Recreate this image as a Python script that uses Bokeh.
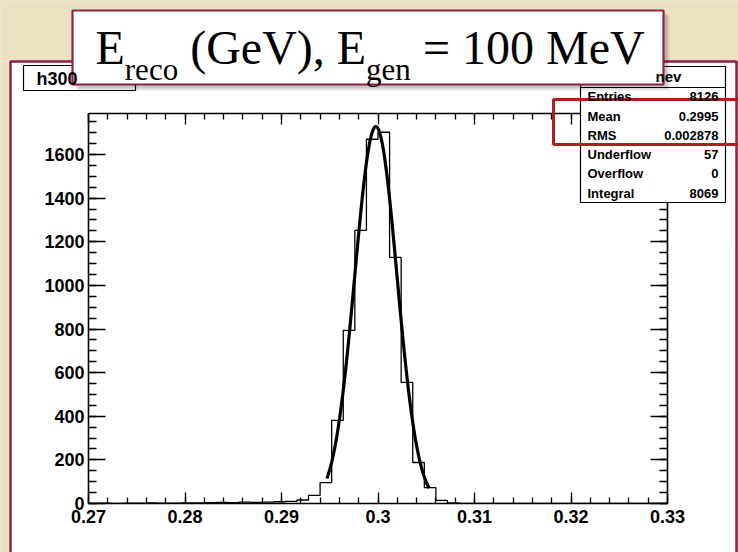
import numpy as np
from bokeh.plotting import figure
from bokeh.models import Range1d, FixedTicker, LinearAxis, Label
from bokeh.embed import file_html
from bokeh.resources import INLINE

# ---------------- data ----------------
x_min, x_max, n_bins = 0.27, 0.33, 50
counts = [0, 2, 1, 2, 2, 3, 2, 2, 3, 3,
          4, 5, 4, 6, 5, 6, 8, 10, 16, 37,
          96, 381, 794, 1252, 1670, 1702, 1128, 555, 188, 73,
          14, 3, 0, 0, 0, 0, 0, 0, 0, 0,
          0, 0, 0, 0, 0, 0, 0, 0, 0, 0]
fit_const, fit_mean, fit_sigma = 1728.0, 0.29978, 0.00218
fit_lo, fit_hi = 0.2947, 0.3053
y_top = 1788

x_ticks = [0.27, 0.28, 0.29, 0.30, 0.31, 0.32, 0.33]
x_tick_labels = ["0.27", "0.28", "0.29", "0.3", "0.31", "0.32", "0.33"]
x_minor = [round(0.27 + 0.002 * i, 4) for i in range(31)]
y_ticks = [0, 200, 400, 600, 800, 1000, 1200, 1400, 1600]
y_tick_labels = ["0", "200", "400", "600", "800", "1000", "1200", "1400", "1600"]
y_minor = list(range(0, 1800, 50))

stat_names = ["Entries", "Mean", "RMS", "Underflow", "Overflow", "Integral"]
stat_values = ["8126", "0.2995", "0.002878", "57", "0", "8069"]
hist_name = "h300"
stats_title = "nev"
title_parts = ["E", "reco", "(GeV),", "E", "gen", "= 100 MeV"]
title_is_sub = [False, True, False, False, True, False]

# ---------------- layout (page pixel coordinates) ----------------
W, H = 738, 552
FL, FR, FT, FB = 88, 667, 113, 503
BEIGE = "#ECE2C2"
MAROON = "#8A2148"

p = figure(width=W, height=H, output_backend="svg", toolbar_location=None,
           x_range=Range1d(x_min, x_max), y_range=Range1d(0, y_top),
           x_axis_location=None, y_axis_location=None,
           min_border_left=FL, min_border_right=W - FR,
           min_border_top=FT, min_border_bottom=H - FB)
p.grid.grid_line_color = None
p.outline_line_color = None
p.border_fill_color = "white"
p.background_fill_color = "white"

xt = FixedTicker(ticks=x_ticks, minor_ticks=x_minor)
yt = FixedTicker(ticks=y_ticks, minor_ticks=y_minor)


def axis(ticker, labels, major_in, minor_in, show):
    ax = LinearAxis(ticker=ticker, major_tick_in=major_in, major_tick_out=0,
                    minor_tick_in=minor_in, minor_tick_out=0,
                    axis_line_width=1.6, major_tick_line_width=1.3,
                    minor_tick_line_width=1.3,
                    major_label_text_font="Liberation Sans",
                    major_label_text_font_style="bold",
                    major_label_text_font_size="18px",
                    major_label_text_color="black")
    if show:
        ax.major_label_overrides = dict(zip(ticker.ticks, labels))
    else:
        ax.major_label_overrides = {t: "" for t in ticker.ticks}
        ax.major_label_standoff = 0
    return ax


bx = axis(xt, x_tick_labels, 11, 6, True)
bx.major_label_standoff = 6
lx = axis(yt, y_tick_labels, 17, 8, True)
lx.major_label_standoff = 4
p.add_layout(bx, "below")
p.add_layout(lx, "left")
p.add_layout(axis(xt, x_tick_labels, 11, 6, False), "above")
p.add_layout(axis(yt, y_tick_labels, 17, 8, False), "right")

# histogram (step outline)
edges = np.linspace(x_min, x_max, n_bins + 1)
p.step(x=list(edges), y=counts + [counts[-1]], mode="after",
       line_color="black", line_width=1.3)

# gaussian fit
fx = np.linspace(fit_lo, fit_hi, 200)
fy = fit_const * np.exp(-0.5 * ((fx - fit_mean) / fit_sigma) ** 2)
p.line(fx, fy, line_color="black", line_width=3.2)

# ---------------- overlay figure for slide decorations ----------------
o = figure(width=W, height=H, output_backend="svg", toolbar_location=None,
           x_range=Range1d(0, W), y_range=Range1d(H, 0),
           x_axis_location=None, y_axis_location=None, min_border=0)
o.grid.grid_line_color = None
o.outline_line_color = None
o.background_fill_alpha = 0
o.border_fill_alpha = 0
o.css_classes = ["slide-overlay"]
o.styles = {"position": "absolute", "top": "0px", "left": "0px"}


def box(X0, Y0, X1, Y1, fill=None, fa=1.0, line=None, lw=1.0):
    o.quad(left=X0, right=X1, top=Y0, bottom=Y1,
           fill_color=fill, fill_alpha=fa if fill else 0,
           line_color=line, line_alpha=1 if line else 0, line_width=lw)


def text(t, X, Y, size, font="Liberation Sans", style="bold", align="left",
         baseline="middle"):
    o.add_layout(Label(x=X, y=Y, text=t, text_font=font,
                       text_font_size=f"{size}px", text_font_style=style,
                       text_align=align, text_baseline=baseline,
                       text_color="black"))


# slide background around the pad
box(0, 0, W, 61, fill=BEIGE)
box(0, 61, 10, H, fill=BEIGE)
box(736, 61, W, H, fill=BEIGE)
box(10, 61, 736, H + 10, line=MAROON, lw=2.5)

# histogram name box
box(23, 65, 135, 90, fill="white", line="black", lw=1.2)
text(hist_name, 36, 78, 18)

# stats box
box(580, 66, 725, 202, fill="white", line="black", lw=1.2)
box(580, 86.5, 725, 87.5, fill="black")
text(stats_title, 655, 76, 15)
row_y = [95.5, 115.8, 135.0, 154.2, 173.4, 192.6]
for nm, val, yy in zip(stat_names, stat_values, row_y):
    text(nm, 587, yy, 13)
    text(val, 718, yy, 13, align="right")

# title box with shadow
box(77, 15, 669, 90, fill="black", fa=0.10)
box(75, 13, 667, 88, fill="black", fa=0.12)
box(72, 10, 663, 84, fill="white", line=MAROON, lw=2.2)
big, small = 48, 31
tx = [95, 124.3, 189.7, 336.3, 365.6, 422.4]
for part, X, sub in zip(title_parts, tx, title_is_sub):
    if sub:
        text(part, X, 69, small, font="Liberation Serif", style="normal",
             baseline="alphabetic")
    else:
        text(part, X, 47, big, font="Liberation Serif", style="normal",
             baseline="alphabetic")

# red highlight
box(553, 99, 745, 144, line="#B01E1E", lw=3)

html = file_html([p, o], INLINE, title="E_reco histogram")
css = ("<style>body{background:%s;margin:0;}"
       ".slide-overlay{position:absolute !important;top:0;left:0;}</style>" % BEIGE)
html = html.replace("</head>", css + "</head>", 1)
open("out.html", "w").write(html)
